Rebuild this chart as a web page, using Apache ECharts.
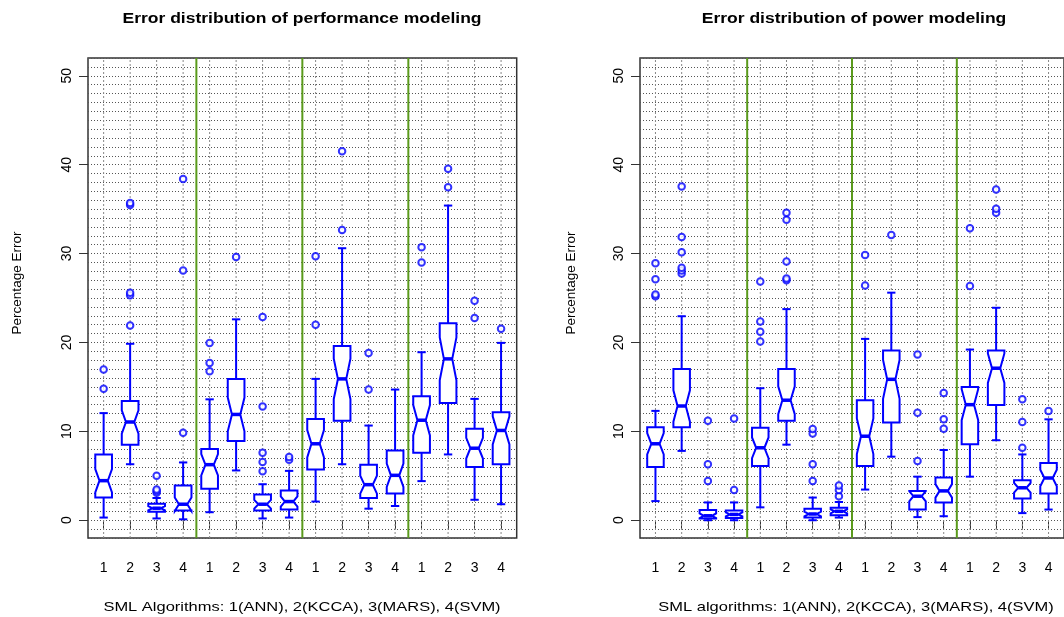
<!DOCTYPE html>
<html><head><meta charset="utf-8">
<script src="https://cdn.jsdelivr.net/npm/echarts@6/dist/echarts.min.js"></script>
<style>html,body{margin:0;padding:0;background:#fff}#c{width:1064px;height:617px}</style>
</head><body><div id="c"></div>
<script>
// ---------- data ----------
const positions = [1,2,3,4,5,6,7,8,9,10,11,12,13,14,15,16];
const tickLabels = ['1','2','3','4','1','2','3','4','1','2','3','4','1','2','3','4'];
const separators = [4.5, 8.5, 12.5];
const yTickValues = [0,10,20,30,40,50];
const yAxisTitle = 'Percentage Error';

const perfTitle = 'Error distribution of performance modeling';
const perfXName = 'SML Algorithms: 1(ANN), 2(KCCA), 3(MARS), 4(SVM)';
const perfLow   = [0.3, 6.3, 0.2, 0.1, 0.9, 5.6, 0.2, 0.3, 2.1, 6.3, 1.3, 1.6, 4.4, 7.4, 2.3, 1.8];
const perfQ1    = [2.55, 8.5, 0.95, 1.1, 3.55, 8.9, 1.1, 1.2, 5.7, 11.2, 2.5, 3.0, 7.6, 13.2, 6.0, 6.3];
const perfMed   = [4.45, 11.05, 1.35, 1.8, 6.25, 11.9, 1.8, 2.1, 8.6, 15.9, 4.0, 5.05, 11.25, 18.15, 8.1, 10.1];
const perfQ3    = [7.4, 13.4, 1.85, 3.9, 8.0, 15.9, 2.9, 3.35, 11.4, 19.6, 6.25, 7.85, 13.95, 22.15, 10.3, 12.15];
const perfHigh  = [12.05, 19.85, 2.5, 6.5, 13.6, 22.6, 4.05, 5.55, 15.9, 30.6, 10.65, 14.7, 18.9, 35.4, 13.65, 19.95];
const perfNotchLo = [3.14, 9.73, 1.11, 1.04, 5.05, 10.0, 1.31, 1.52, 7.06, 13.63, 2.99, 3.74, 9.54, 15.73, 6.94, 8.52];
const perfNotchHi = [5.76, 12.37, 1.59, 2.56, 7.45, 13.8, 2.29, 2.68, 10.14, 18.17, 5.01, 6.36, 12.96, 20.57, 9.26, 11.68];
const perfOutliers = [
  [14.8, 16.95], [21.9, 25.3, 25.6, 35.45, 35.7], [3.1, 3.3, 3.45, 5.0], [9.85, 28.1, 38.4],
  [16.75, 17.7, 19.95], [29.6], [5.5, 6.55, 7.6, 12.8, 22.85], [6.8, 7.1],
  [22.0, 29.7], [32.65, 41.5], [14.7, 18.8], [],
  [29.0, 30.7], [37.45, 39.55], [22.75, 24.7], [21.55]
];

const powTitle = 'Error distribution of power modeling';
const powXName = 'SML algorithms: 1(ANN), 2(KCCA), 3(MARS), 4(SVM)';
const powLow   = [2.15, 7.8, 0.0, 0.0, 1.45, 8.5, 0.0, 0.3, 3.45, 7.15, 0.35, 0.45, 4.9, 9.0, 0.8, 1.2];
const powQ1    = [6.0, 10.45, 0.2, 0.25, 6.1, 11.2, 0.3, 0.55, 6.1, 11.0, 1.2, 2.0, 8.55, 12.95, 2.45, 3.0];
const powMed   = [8.6, 12.85, 0.5, 0.65, 8.15, 13.5, 0.7, 1.0, 9.45, 15.85, 2.7, 3.3, 13.0, 17.1, 3.65, 4.75];
const powQ3    = [10.45, 17.0, 1.15, 1.1, 10.4, 17.0, 1.3, 1.4, 13.5, 19.1, 3.3, 4.8, 15.0, 19.1, 4.5, 6.45];
const powHigh  = [12.3, 22.95, 2.0, 2.0, 14.85, 23.75, 2.55, 2.05, 20.4, 25.6, 4.9, 7.9, 19.2, 23.9, 7.4, 11.35];
const powNotchLo = [7.4, 11.08, 0.24, 0.42, 6.99, 11.93, 0.43, 0.77, 7.45, 13.66, 2.13, 2.54, 11.26, 15.44, 3.1, 3.82];
const powNotchHi = [9.8, 14.62, 0.76, 0.88, 9.31, 15.07, 0.97, 1.23, 11.45, 18.04, 3.27, 4.06, 14.74, 18.76, 4.2, 5.68];
const powOutliers = [
  [25.2, 25.4, 27.1, 28.9], [27.75, 28.1, 28.4, 30.15, 31.85, 37.55], [4.4, 6.3, 11.2], [3.4, 11.45],
  [20.1, 21.2, 22.35, 26.85], [27.0, 27.2, 29.1, 33.8, 34.6], [4.4, 6.3, 9.75, 10.25], [2.7, 3.4, 3.9],
  [26.4, 29.85], [32.1], [6.65, 12.1, 18.65], [10.3, 11.35, 14.3],
  [26.35, 32.85], [34.6, 35.05, 37.2], [8.15, 11.05, 13.6], [12.3]
];

// ---------- style ----------
const BLUE = '#0000ff';
const GREEN = '#5a9a1c';
const FONT = '"Liberation Sans", Arial, Helvetica, sans-serif';
const BOX_W = 0.63;
const Y_MIN = -2, Y_MAX = 52;

const chart = echarts.init(document.getElementById('c'), null, {renderer: 'canvas'});

function boxData(low, q1, med, q3, high, nlo, nhi) {
  return positions.map((p, i) => [p, low[i], q1[i], med[i], q3[i], high[i], nlo[i], nhi[i]]);
}
function outlierData(out) {
  const d = [];
  out.forEach((arr, i) => arr.forEach(v => d.push([positions[i], v])));
  return d;
}

function renderBox(params, api) {
  const x = api.value(0);
  const Y = v => api.coord([x, v])[1];
  const cx = api.coord([x, 0])[0];
  const hw = api.size([BOX_W, 0])[0] / 2;
  const low = api.value(1), q1 = api.value(2), med = api.value(3), q3 = api.value(4),
        high = api.value(5), nlo = api.value(6), nhi = api.value(7);
  const pts = [
    [cx - hw, Y(q3)], [cx + hw, Y(q3)], [cx + hw, Y(nhi)], [cx + hw / 2, Y(med)],
    [cx + hw, Y(nlo)], [cx + hw, Y(q1)], [cx - hw, Y(q1)], [cx - hw, Y(nlo)],
    [cx - hw / 2, Y(med)], [cx - hw, Y(nhi)]
  ];
  const ls = {stroke: BLUE, lineWidth: 2};
  return {type: 'group', children: [
    {type: 'line', shape: {x1: cx, y1: Y(q3), x2: cx, y2: Y(high)}, style: ls},
    {type: 'line', shape: {x1: cx, y1: Y(q1), x2: cx, y2: Y(low)}, style: ls},
    {type: 'line', shape: {x1: cx - hw / 2, y1: Y(high), x2: cx + hw / 2, y2: Y(high)}, style: ls},
    {type: 'line', shape: {x1: cx - hw / 2, y1: Y(low), x2: cx + hw / 2, y2: Y(low)}, style: ls},
    {type: 'polygon', shape: {points: pts}, style: {fill: '#fff', stroke: BLUE, lineWidth: 2, lineJoin: 'miter'}},
    {type: 'line', shape: {x1: cx - hw / 2, y1: Y(med), x2: cx + hw / 2, y2: Y(med)}, style: {stroke: BLUE, lineWidth: 3.5}}
  ]};
}

function vline(color, width, dash) {
  return function (params, api) {
    const x = api.value(0);
    const a = api.coord([x, Y_MIN]), b = api.coord([x, Y_MAX]);
    return {type: 'line', shape: {x1: a[0], y1: a[1], x2: b[0], y2: b[1]},
      style: {stroke: color, lineWidth: width, lineDash: dash}};
  };
}

const GRID_W = 428.7;
const grids = [
  {left: 88, top: 58, width: GRID_W, height: 480, show: true, borderColor: '#333', borderWidth: 1.5, backgroundColor: 'transparent'},
  {left: 640, top: 58, width: GRID_W, height: 480, show: true, borderColor: '#333', borderWidth: 1.5, backgroundColor: 'transparent'}
];

function xAxis(gi) {
  return {
    type: 'value', gridIndex: gi, min: 0.41, max: 16.59,
    axisLine: {show: false},
    axisTick: {show: true, customValues: positions, length: 9, lineStyle: {color: '#333', width: 1}},
    axisLabel: {show: true, customValues: positions, margin: 23, fontFamily: FONT, fontSize: 14, color: '#000',
      formatter: v => tickLabels[Math.round(v) - 1]},
    splitLine: {show: false}
  };
}
function yAxis(gi) {
  return {
    type: 'value', gridIndex: gi, min: Y_MIN, max: Y_MAX,
    axisLine: {show: false},
    axisTick: {show: true, customValues: yTickValues, length: 9, lineStyle: {color: '#333', width: 1}},
    axisLabel: {show: true, customValues: yTickValues, rotate: 90, margin: 14, fontFamily: FONT, fontSize: 14, color: '#000'},
    splitLine: {show: false}
  };
}
// hidden axis used only for the dotted horizontal grid at every unit
function yGridAxis(gi) {
  return {
    type: 'value', gridIndex: gi, min: Y_MIN, max: Y_MAX, interval: 1,
    axisLine: {show: false}, axisTick: {show: false}, axisLabel: {show: false},
    splitLine: {show: true, lineStyle: {color: '#555', width: 1, type: [1, 2]}}
  };
}

function panelSeries(gi, low, q1, med, q3, high, nlo, nhi, out) {
  return [
    {type: 'custom', xAxisIndex: gi, yAxisIndex: gi, renderItem: vline('#888', 1, [2, 2]),
      data: positions.map(p => [p]), z: 1, silent: true, clip: true},
    {type: 'custom', xAxisIndex: gi, yAxisIndex: gi, renderItem: vline(GREEN, 2, null),
      data: separators.map(p => [p]), z: 2, silent: true, clip: true},
    {type: 'custom', xAxisIndex: gi, yAxisIndex: gi, renderItem: renderBox,
      data: boxData(low, q1, med, q3, high, nlo, nhi), z: 3, silent: true},
    {type: 'scatter', xAxisIndex: gi, yAxisIndex: gi, symbol: 'emptyCircle', symbolSize: 6.5,
      itemStyle: {color: BLUE, borderColor: BLUE, borderWidth: 2}, data: outlierData(out), z: 4, silent: true}
  ];
}

function hText(text, x, y, font, sx) {
  return {type: 'text', x: x, y: y, scaleX: sx, style: {text: text, font: font, fill: '#000', textAlign: 'center', textVerticalAlign: 'middle'}};
}
function vText(text, x, y, font) {
  return {type: 'text', x: x, y: y, rotation: Math.PI / 2, style: {text: text, font: font, fill: '#000', textAlign: 'center', textVerticalAlign: 'middle'}};
}

chart.setOption({
  animation: false,
  backgroundColor: '#fff',
  grid: grids,
  xAxis: [xAxis(0), xAxis(1)],
  yAxis: [yAxis(0), yAxis(1), yGridAxis(0), yGridAxis(1)],
  graphic: [
    hText(perfTitle, 302, 19, 'bold 15.5px ' + FONT, 1.13),
    hText(powTitle, 854, 19, 'bold 15.5px ' + FONT, 1.13),
    hText(perfXName, 302, 607, '13.5px ' + FONT, 1.22),
    hText(powXName, 856, 607, '13.5px ' + FONT, 1.22),
    vText(yAxisTitle, 17, 283, '13.5px ' + FONT),
    vText(yAxisTitle, 571, 283, '13.5px ' + FONT)
  ],
  series: [].concat(
    panelSeries(0, perfLow, perfQ1, perfMed, perfQ3, perfHigh, perfNotchLo, perfNotchHi, perfOutliers),
    panelSeries(1, powLow, powQ1, powMed, powQ3, powHigh, powNotchLo, powNotchHi, powOutliers)
  )
});
</script>
</body></html>
